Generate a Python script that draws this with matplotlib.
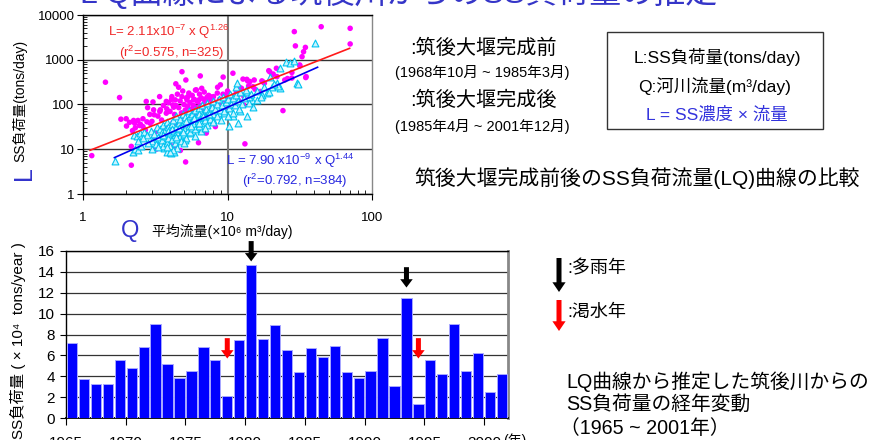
import matplotlib
matplotlib.use('Agg')
import matplotlib.pyplot as plt
from matplotlib.ticker import LogLocator, NullFormatter

plt.rcParams['font.family'] = ['Liberation Sans', 'Noto Sans CJK JP', 'DejaVu Sans']
plt.rcParams['mathtext.fontset'] = 'custom'
plt.rcParams['mathtext.rm'] = 'Liberation Sans'
plt.rcParams['mathtext.default'] = 'regular'

# --- LQ scatter: before weir (magenta) ---
before_q = [1.15, 1.43, 1.79, 1.83, 1.99, 2.16, 2.16, 2.24, 2.28, 2.40, 2.46, 2.60, 2.74, 2.77, 2.92,
            3.05, 3.08, 3.11, 3.11, 3.22, 3.39, 3.43, 3.25, 3.77, 3.77, 3.98, 4.12, 4.19, 4.24, 4.35,
            4.39, 4.59, 4.72, 4.84, 4.84, 5.13, 5.15, 5.24, 5.32, 5.67, 5.83, 6.09, 6.35, 6.48, 6.63,
            6.83, 6.94, 7.13, 7.20, 7.60, 8.02, 8.24, 8.54, 8.93, 9.33, 9.50, 9.92, 10.18, 10.9, 11.5,
            12.1, 12.9, 13.2, 13.6, 14.0, 14.3, 15.3, 16.9, 17.3, 19.3, 20.3, 21.8, 24.2, 24.9, 27.9,
            29.0, 29.5, 31.6, 32.8, 33.6, 34.6, 35.0, 44.5, 70.6, 70.6,
            3.6, 3.8, 3.9, 4.0, 4.1, 4.3, 4.4, 4.5, 4.6, 4.7, 4.8, 4.9, 5.0, 5.1, 5.2, 5.3, 5.4, 5.5,
            5.6, 5.7, 5.8, 5.9, 6.0, 6.1, 6.2, 6.4, 6.5, 6.6, 6.8, 6.9, 7.0, 7.2, 7.4, 7.6, 7.8, 8.0,
            8.2, 8.5, 8.8, 9.0, 9.3, 9.6, 10.0, 10.5, 11.0, 11.5, 12.0, 12.5, 13.0, 14.0, 15.5, 3.3,
            3.5, 2.9, 3.0, 2.6, 4.2, 4.5, 3.7, 5.0, 6.0, 7.0, 8.0, 5.5, 4.0, 2.5, 2.3, 2.2, 2.1, 3.2,
            3.8, 4.6, 6.5, 9.0, 10.0, 11.0, 12.0, 3.4, 2.8, 2.0, 2.7, 5.9, 6.3, 4.3,
            19.6, 20.7, 17.6, 12.8, 13.8, 15.0, 18.0, 22.0, 26.0, 31.7, 34.8, 27.9]
before_l = [7.2, 315, 143, 47, 48, 4.4, 11.6, 44, 38, 44, 34, 32, 117, 41, 38,
            114, 76, 59, 19, 10.1, 150, 76, 12.6, 117, 64, 13.8, 150, 98, 87, 127,
            290, 243, 9.4, 540, 150, 5.2, 353, 127, 150, 79, 127, 212, 127, 435, 230,
            100, 127, 23, 145, 150, 117, 32, 243, 275, 410, 127, 165, 127, 500, 180,
            243, 98, 13.2, 365, 127, 326, 353, 195, 337, 570, 460, 645, 73, 353, 520,
            4250, 2040, 765, 1170, 1510, 1890, 420, 5470, 5040, 2255,
            95, 80, 110, 70, 130, 60, 95, 170, 85, 120, 65, 200, 100, 75, 140, 90, 180, 110,
            70, 160, 95, 130, 210, 85, 115, 170, 95, 140, 80, 190, 120, 100, 160, 130, 90, 150,
            110, 180, 130, 100, 170, 140, 200, 160, 130, 210, 170, 230, 150, 260, 220, 55,
            45, 60, 42, 48, 40, 35, 30, 50, 60, 70, 75, 45, 28, 36, 30, 26, 40, 25,
            22, 20, 40, 60, 80, 90, 120, 70, 85, 33, 27, 28, 14, 12,
            540, 480, 320, 370, 335, 250, 300, 420, 380, 725, 400, 390]

# --- LQ scatter: after weir (cyan) ---
after_q = [1.67, 2.22, 2.30, 2.39, 2.24, 2.36, 2.49, 2.63, 2.77, 2.95, 3.25, 3.17, 3.34, 3.48, 3.62,
           3.81, 4.06, 4.24, 3.81, 4.02, 5.1, 5.5, 6.1, 6.6, 7.2, 8.0, 8.7, 9.4, 10.2, 11.0,
           11.9, 13.6, 12.2, 11.5, 13.6, 14.7, 15.9, 17.3, 18.7, 22.0, 23.0, 25.4, 27.2, 28.7, 30.3,
           40.3, 20.3, 15.0, 14.0, 11.6, 23.1, 19.7, 22.4, 30.9,
           3.0, 3.1, 3.2, 3.3, 3.4, 3.5, 3.5, 3.6, 3.6, 3.7, 3.7, 3.8, 3.8, 3.9, 3.9, 4.0, 4.0, 4.1,
           4.1, 4.2, 4.2, 4.3, 4.3, 4.4, 4.4, 4.5, 4.5, 4.6, 4.6, 4.7, 4.7, 4.8, 4.8, 4.9, 4.9, 5.0,
           5.0, 5.1, 5.1, 5.2, 5.2, 5.3, 5.3, 5.4, 5.4, 5.5, 5.5, 5.6, 5.7, 5.7, 5.8, 5.9, 6.0, 6.0,
           6.1, 6.2, 6.3, 6.3, 6.4, 6.5, 6.6, 6.7, 6.8, 6.9, 7.0, 7.1, 7.2, 7.3, 7.5, 7.6, 7.8, 7.9,
           8.0, 8.2, 8.4, 8.5, 8.7, 8.9, 9.1, 9.3, 9.5, 9.7, 10.0, 10.2, 10.4, 10.6, 10.9, 11.2, 11.5,
           11.8, 12.2, 12.5, 13.0, 13.5, 14.0, 14.5, 16.0, 17.0, 18.0, 19.5, 21.0, 6.0, 7.0, 8.0,
           5.0, 4.5, 4.2, 4.0, 3.8, 3.3, 3.0, 2.8, 2.6, 2.5, 2.4, 9.0, 10.0, 11.0, 12.0,
           3.6, 3.9, 4.1, 4.4, 4.6, 4.9, 5.2, 5.6, 5.9, 6.4, 6.8, 7.4]
after_l = [5.35, 8.5, 10.1, 9.4, 21, 19.4, 23, 24, 21, 25, 32, 17, 11.6, 13.8, 10.6,
           8.9, 8.2, 8.5, 15, 19, 16.3, 23, 30, 25, 35, 45, 64, 64, 33.5, 54,
           38, 54, 70, 250, 195, 127, 127, 165, 180, 300, 230, 910, 860, 960, 310,
           2330, 243, 90, 150, 300, 650, 420, 260, 286,
           15, 22, 13, 19, 28, 16, 24, 12, 35, 20, 27, 14, 40, 18, 31, 23, 12, 36,
           17, 26, 45, 21, 14, 32, 55, 24, 17, 38, 28, 20, 48, 33, 15, 26, 60, 40,
           22, 30, 52, 18, 36, 45, 27, 70, 33, 24, 55, 40, 30, 62, 47, 36, 75, 28,
           52, 42, 85, 33, 60, 48, 38, 95, 65, 52, 44, 80, 110, 58, 70, 48, 90, 120,
           62, 80, 105, 55, 135, 75, 95, 150, 70, 115, 130, 85, 170, 105, 140, 95, 160,
           120, 190, 105, 140, 210, 110, 175, 200, 150, 240, 190, 280, 20, 30, 40,
           14, 10.5, 9.5, 8.8, 11, 11, 10, 14, 18, 12, 15, 45, 55, 65, 80,
           21, 25, 29, 19, 30, 24, 42, 33, 50, 38, 55, 62]

# regression line ends
fit_before_q = [1.12, 70]
fit_before_l = [9.5, 1800]
fit_after_q = [1.65, 42]
fit_after_l = [6.5, 680]

# --- annual SS load (x10^4 tons/year) ---
years = list(range(1965, 2002))
ss_load = [7.2, 3.7, 3.3, 3.3, 5.6, 4.8, 6.8, 9.0, 5.2, 3.8, 4.5, 6.8, 5.6, 2.1, 7.5,
           14.7, 7.6, 8.9, 6.5, 4.4, 6.7, 5.8, 6.9, 4.4, 3.8, 4.5, 7.7, 3.1, 11.5, 1.3,
           5.6, 4.2, 9.0, 4.5, 6.2, 2.5, 4.2]
wet_years = [1980, 1993]
wet_tips = [15.0, 12.5]
dry_years = [1978, 1994]
dry_tips = [5.7, 5.7]

W, H = 877, 440
def fx(px):
    return px / W
def fy(py):
    return 1 - py / H

fig = plt.figure(figsize=(8.77, 4.4), dpi=100)

# title (cropped at the top of the slide)
fig.text(fx(80), fy(3), 'L Q曲線による筑後川からのSS負荷量の推定', color='#3535c8',
         fontsize=23, ha='left', va='baseline')

# ---------- scatter ----------
ax1 = fig.add_axes([fx(83), fy(194), 289 / W, 179 / H])
ax1.set_xscale('log')
ax1.set_yscale('log')
ax1.scatter(before_q, before_l, s=16, c='#ff00ff', edgecolors='none', zorder=3)
ax1.scatter(after_q, after_l, s=24, marker='^', facecolors='#c8f3ff', edgecolors='#00c4f0',
            linewidths=0.8, zorder=4)
ax1.plot(fit_before_q, fit_before_l, color='#ff1a1a', lw=1.2, zorder=5)
ax1.plot(fit_after_q, fit_after_l, color='#0000ee', lw=1.2, zorder=5)
ax1.set_xlim(1, 100)
ax1.set_ylim(1, 10000)
ax1.set_xticks([1, 10, 100])
ax1.set_xticklabels(['1', '10', '100'])
ax1.set_yticks([1, 10, 100, 1000, 10000])
ax1.set_yticklabels(['1', '10', '100', '1000', '10000'])
ax1.xaxis.set_minor_locator(LogLocator(subs=range(2, 10)))
ax1.yaxis.set_minor_locator(LogLocator(subs=range(2, 10)))
ax1.xaxis.set_minor_formatter(NullFormatter())
ax1.yaxis.set_minor_formatter(NullFormatter())
ax1.tick_params(which='major', direction='out', length=4, labelsize=9.5, color='k')
ax1.tick_params(which='minor', direction='in', length=3, color='k')
ax1.tick_params(axis='x', which='major', pad=9)
ax1.tick_params(axis='y', which='major', pad=2)
ax1.yaxis.grid(True, which='major', color='#333333', lw=1)
ax1.axvline(10, color='#777777', lw=1.5, zorder=1)
ax1.set_axisbelow(True)
for s in ax1.spines.values():
    s.set_color('k')
    s.set_linewidth(1)
ax1.spines['right'].set_color('#888888')

fig.text(fx(169), fy(32), r'L= 2.11x10$^{-7}$ x Q$^{1.26}$', color='#f02828', fontsize=9.5,
         ha='center', va='center')
fig.text(fx(172), fy(53), r'(r$^2$=0.575, n=325)', color='#f02828', fontsize=9.5,
         ha='center', va='center')
fig.text(fx(290), fy(161), r'L = 7.90 x10$^{-9}$ x Q$^{1.44}$', color='#2828e0', fontsize=9.5,
         ha='center', va='center')
fig.text(fx(295), fy(181), r'(r$^2$=0.792, n=384)', color='#2828e0', fontsize=9.5,
         ha='center', va='center')

fig.text(fx(20), fy(101), 'SS負荷量(tons/day)', rotation=90, fontsize=10, ha='center', va='center')
fig.text(fx(24), fy(173), 'L', rotation=90, color='#3333cc', fontsize=18, ha='center', va='center')
fig.text(fx(130), fy(231), 'Q', color='#3333cc', fontsize=17, ha='center', va='center')
fig.text(fx(152), fy(231), '平均流量(×10⁶ m³/day)', fontsize=10, ha='left', va='center')

# ---------- legend texts / box ----------
fig.text(fx(483), fy(48), ':筑後大堰完成前', fontsize=14.5, ha='center', va='center')
fig.text(fx(482), fy(72), '(1968年10月 ~ 1985年3月)', fontsize=10.5, ha='center', va='center')
fig.text(fx(483), fy(100), ':筑後大堰完成後', fontsize=14.5, ha='center', va='center')
fig.text(fx(482), fy(127), '(1985年4月 ~ 2001年12月)', fontsize=10.5, ha='center', va='center')

box = plt.Rectangle((fx(607), fy(129)), (823 - 607) / W, (129 - 32) / H, transform=fig.transFigure,
                    fill=False, edgecolor='#333333', lw=1)
fig.patches.append(box)
fig.text(fx(717), fy(57), 'L:SS負荷量(tons/day)', fontsize=12.5, ha='center', va='center')
fig.text(fx(715), fy(86), 'Q:河川流量(m³/day)', fontsize=12.5, ha='center', va='center')
fig.text(fx(717), fy(115), 'L = SS濃度 × 流量', fontsize=12.5, color='#3333dd', ha='center', va='center')

fig.text(fx(637), fy(178), '筑後大堰完成前後のSS負荷流量(LQ)曲線の比較', fontsize=15,
         ha='center', va='center')

# ---------- bar chart ----------
ax2 = fig.add_axes([fx(66), fy(418), 442 / W, 167 / H])
ax2.bar([y + 0.07 for y in years], ss_load, width=0.86, align='edge', color='#0000ff',
        edgecolor='#a8a8ff', linewidth=0.7, zorder=3)
ax2.set_xlim(1965, 2002)
ax2.set_ylim(0, 16)
ax2.set_yticks(range(0, 17, 2))
ax2.set_xticks(range(1965, 2001, 5))
ax2.yaxis.grid(True, color='#333333', lw=0.9)
ax2.set_axisbelow(True)
ax2.tick_params(axis='y', direction='out', length=4, labelsize=11, pad=4)
ax2.tick_params(axis='x', direction='out', length=5, labelsize=11, pad=8)
for s in ax2.spines.values():
    s.set_color('k')
    s.set_linewidth(1)
ax2.spines['right'].set_color('#888888')
ax2.spines['right'].set_linewidth(2)
ax2.spines['bottom'].set_linewidth(1.3)

arrow_len = 1.95
for yr, tip in zip(wet_years, wet_tips):
    ax2.annotate('', xy=(yr + 0.5, tip), xytext=(yr + 0.5, tip + arrow_len),
                 arrowprops=dict(facecolor='k', edgecolor='none', width=3.6, headwidth=9,
                                 headlength=6, shrink=0), annotation_clip=False)
for yr, tip in zip(dry_years, dry_tips):
    ax2.annotate('', xy=(yr + 0.5, tip), xytext=(yr + 0.5, tip + arrow_len),
                 arrowprops=dict(facecolor='#ff0000', edgecolor='none', width=3.6, headwidth=9,
                                 headlength=6, shrink=0), annotation_clip=False)

fig.text(fx(18), fy(242), 'SS負荷量 ( × 10⁴  tons/year )', rotation=90, fontsize=11,
         ha='center', va='top')
fig.text(fx(503), fy(433), '(年)', fontsize=10, ha='left', va='top')

# legend arrows
ax2.annotate('', xy=(fx(559), fy(292)), xytext=(fx(559), fy(258)), xycoords='figure fraction',
             textcoords='figure fraction',
             arrowprops=dict(facecolor='k', edgecolor='none', width=3.6, headwidth=9.5,
                             headlength=7, shrink=0), annotation_clip=False)
ax2.annotate('', xy=(fx(559), fy(331)), xytext=(fx(559), fy(300)), xycoords='figure fraction',
             textcoords='figure fraction',
             arrowprops=dict(facecolor='#ff0000', edgecolor='none', width=3.6, headwidth=9.5,
                             headlength=7, shrink=0), annotation_clip=False)
fig.text(fx(567), fy(269), ':多雨年', fontsize=13, ha='left', va='center')
fig.text(fx(567), fy(312), ':渇水年', fontsize=13, ha='left', va='center')

fig.text(fx(566), fy(382), 'LQ曲線から推定した筑後川からの', fontsize=14.2, ha='left', va='center')
fig.text(fx(566), fy(404), 'SS負荷量の経年変動', fontsize=14.2, ha='left', va='center')
fig.text(fx(560), fy(428), '（1965 ~ 2001年）', fontsize=14.2, ha='left', va='center')

fig.savefig('out.png', dpi=100)
